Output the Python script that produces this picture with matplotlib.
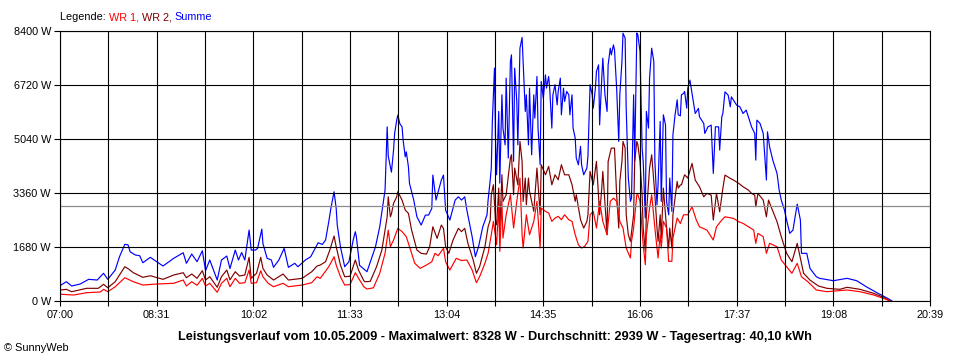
import matplotlib
matplotlib.use("Agg")
import matplotlib.pyplot as plt
import numpy as np

plt.rcParams['font.family'] = ['Liberation Sans', 'DejaVu Sans']

# ---------------- data (minutes after 07:00, watts) ----------------
t_summe = [1, 6, 11, 19, 27, 35, 41, 45, 52, 56, 61, 64, 66, 71, 75, 78, 85, 91, 97, 107,
           116, 119, 124, 129, 134, 137, 141, 148, 152, 157, 160, 165, 168, 171, 174, 178, 180, 184, 186, 190,
           191, 195, 199, 201, 206, 211, 215, 221, 224, 231, 236, 243, 247, 250, 253, 255, 258, 260, 261, 264,
           268, 272, 276, 278, 279, 282, 289, 297, 301, 306, 308, 309, 311, 312, 314, 315, 317, 318, 320, 322,
           323, 325, 326, 328, 329, 333, 336, 340, 344, 347, 350, 351, 354, 356, 359, 361, 363, 367, 372, 375,
           378, 381, 383, 388, 391, 394, 398, 402, 403, 405, 406, 407, 409, 410, 411, 413, 414, 416, 417, 419,
           420, 422, 424, 425, 427, 428, 430, 431, 433, 435, 436, 438, 439, 441, 442, 444, 446, 447, 449, 450,
           452, 453, 455, 457, 458, 460, 461, 463, 464, 466, 468, 469, 471, 472, 474, 475, 477, 479, 480, 482,
           483, 485, 486, 488, 490, 491, 493, 496, 497, 499, 501, 502, 504, 505, 507, 508, 510, 511, 513, 515,
           516, 518, 519, 521, 522, 524, 526, 527, 529, 530, 532, 533, 535, 537, 538, 540, 541, 543, 544, 546,
           548, 549, 551, 552, 554, 555, 557, 559, 560, 562, 563, 565, 566, 568, 570, 571, 573, 574, 576, 577,
           579, 581, 582, 584, 585, 587, 588, 590, 591, 593, 596, 598, 601, 602, 606, 607, 610, 613, 615, 617,
           620, 621, 623, 624, 626, 629, 631, 632, 635, 637, 640, 643, 646, 648, 651, 654, 655, 656, 659, 662,
           665, 666, 668, 671, 675, 677, 679, 682, 684, 687, 690, 694, 697, 698, 703, 706, 712, 715, 728, 741,
           750, 759, 769, 775, 783]
summe = [488, 591, 457, 519, 665, 643, 852, 665, 954, 1368, 1753, 1740, 1523, 1421, 1400, 1181, 1349, 1213, 1079, 1318,
         1492, 1163, 1452, 1213, 1555, 933, 1265, 643, 1265, 1390, 1000, 1576, 1265, 1500, 1265, 2198, 1576, 1576, 1629, 2229,
         1784, 1318, 1265, 1038, 1265, 1629, 1038, 1163, 1057, 1265, 1368, 1803, 1750, 1887, 2456, 2873, 3389, 2873, 2353, 1680,
         1057, 1213, 1887, 2145, 1990, 1100, 902, 1680, 2300, 3442, 5410, 4500, 4166, 4000, 4685, 5204, 5618, 5773, 5500, 5410,
         4996, 4477, 4632, 4166, 3650, 3131, 2611, 2353, 2664, 2664, 2873, 3908, 3131, 3389, 3753, 3908, 2820, 2509, 3131, 3233,
         3131, 3233, 2820, 1990, 1368, 1680, 2300, 2673, 3131, 3753, 4126, 5577, 7235, 5000, 3917, 5888, 3659, 6405, 5369, 4850,
         6924, 4437, 7443, 7648, 4333, 7235, 6199, 4850, 7856, 8189, 7443, 5888, 6405, 4850, 6613, 4540, 6405, 5680, 6976, 5369,
         4229, 6821, 6302, 7027, 6613, 6976, 6613, 5369, 6405, 6720, 6094, 6510, 6924, 5783, 6613, 6199, 6510, 6405, 5783, 6405,
         5369, 5058, 4437, 4229, 4800, 4229, 3917, 4126, 4500, 6720, 6405, 5991, 6613, 7132, 7337, 5472, 6924, 7545, 6405, 5888,
         7337, 7856, 7648, 7959, 7803, 6613, 4955, 6405, 7443, 8322, 8167, 5991, 3815, 3090, 3193, 6405, 4333, 8328, 8270, 7754,
         4747, 4333, 2571, 5888, 5369, 6924, 7856, 7443, 4333, 2985, 3607, 5577, 3090, 5783, 5472, 3090, 2673, 3815, 2779, 5161,
         5783, 6249, 5783, 5750, 6405, 6448, 6510, 5991, 6613, 6862, 6240, 5825, 5982, 5721, 5515, 5204, 5410, 5463, 3961, 5410,
         5410, 4685, 5721, 5825, 6498, 6395, 6032, 6342, 6187, 6084, 6032, 5825, 5929, 5721, 5410, 5204, 4374, 5618, 5515, 5204,
         3753, 5254, 4788, 4374, 3961, 3442, 3131, 2820, 2509, 2095, 2198, 3006, 2509, 1474, 1474, 1007, 746, 696, 622, 696,
         622, 435, 249, 146, 0]

t_wr2 = [1, 6, 11, 25, 36, 41, 45, 52, 61, 64, 69, 78, 85, 97, 107, 116, 119, 124, 129, 134,
         137, 141, 148, 152, 157, 160, 165, 169, 174, 178, 180, 185, 189, 191, 195, 201, 210, 215, 228, 237,
         242, 245, 250, 254, 258, 260, 264, 268, 273, 278, 281, 286, 287, 292, 298, 303, 308, 309, 311, 312,
         314, 317, 318, 322, 325, 328, 331, 336, 340, 345, 348, 351, 355, 359, 361, 363, 366, 370, 375, 378,
         381, 384, 389, 392, 395, 400, 403, 405, 406, 408, 410, 411, 413, 414, 416, 417, 420, 424, 425, 427,
         428, 431, 433, 435, 436, 438, 439, 441, 442, 446, 449, 452, 453, 457, 460, 463, 466, 469, 472, 475,
         479, 482, 485, 486, 490, 493, 496, 497, 499, 502, 505, 508, 510, 511, 515, 516, 519, 522, 524, 526,
         527, 529, 530, 532, 533, 535, 537, 540, 541, 543, 544, 546, 548, 549, 551, 552, 555, 557, 560, 562,
         563, 565, 566, 568, 571, 573, 574, 576, 577, 581, 582, 584, 585, 588, 591, 595, 598, 602, 606, 609,
         613, 615, 618, 621, 624, 626, 631, 634, 639, 643, 648, 651, 654, 655, 657, 662, 665, 667, 670, 675,
         679, 684, 689, 694, 697, 700, 706, 714, 722, 734, 741, 753, 766, 775, 781]
wr2 = [333, 354, 280, 385, 385, 510, 404, 591, 1057, 1000, 871, 727, 777, 665, 799, 871, 715, 830, 696, 933,
       643, 746, 417, 746, 954, 650, 902, 768, 800, 1349, 696, 852, 1349, 1007, 799, 643, 830, 643, 696, 902,
       1079, 1110, 1213, 1576, 2012, 1680, 1110, 746, 760, 1265, 954, 622, 591, 600, 1057, 1576, 2611, 3233, 2611, 2700,
       3028, 3233, 3389, 3131, 2820, 2717, 2198, 1576, 1474, 1450, 1680, 2300, 1940, 2353, 2250, 1680, 1474, 1887, 2251, 2150,
       2251, 1784, 1265, 852, 1057, 1680, 2300, 2509, 3296, 3607, 2469, 2363, 3504, 2157, 3917, 3090, 3296, 4437, 4540, 3296,
       4126, 3607, 4955, 4333, 3090, 3815, 2985, 3815, 3401, 2779, 4126, 2673, 4229, 3917, 4178, 3607, 3917, 3762, 4229, 3917,
       3917, 3607, 3090, 3296, 2520, 2260, 2469, 2673, 4023, 3607, 4333, 2673, 3504, 4023, 2053, 4333, 4747, 4747, 3296, 2260,
       3712, 4333, 4955, 4747, 2673, 2053, 1847, 2673, 4333, 4955, 4850, 4333, 3296, 2260, 1535, 2673, 4126, 4540, 3296, 2260,
       1847, 2673, 1949, 3504, 2260, 1638, 2260, 1638, 2673, 3712, 3504, 3600, 3607, 3917, 3815, 4272, 3753, 3545, 3233, 3339,
       3286, 2509, 3339, 2767, 3494, 3908, 3805, 3753, 3650, 3545, 3442, 3339, 3286, 2923, 3339, 3131, 2611, 3131, 2873, 2456,
       1990, 1474, 1213, 1784, 1318, 852, 643, 457, 385, 354, 417, 354, 230, 106, 0]

t_wr1 = [1, 13, 25, 38, 41, 45, 52, 61, 69, 78, 91, 107, 116, 119, 124, 129, 134, 137, 141, 148,
         152, 157, 160, 165, 169, 174, 178, 180, 185, 189, 191, 196, 201, 210, 215, 228, 237, 242, 245, 253,
         258, 260, 264, 268, 273, 278, 281, 286, 289, 295, 301, 306, 309, 311, 314, 318, 322, 326, 329, 334,
         339, 345, 350, 353, 356, 361, 363, 367, 373, 378, 383, 388, 392, 395, 400, 403, 406, 408, 411, 413,
         414, 416, 417, 420, 424, 427, 430, 433, 435, 436, 439, 442, 446, 449, 452, 453, 457, 460, 463, 466,
         469, 472, 475, 479, 482, 485, 488, 491, 494, 497, 499, 502, 505, 508, 511, 515, 518, 521, 524, 527,
         530, 533, 537, 538, 540, 543, 544, 546, 549, 551, 552, 555, 557, 560, 562, 563, 565, 566, 568, 571,
         573, 576, 577, 581, 584, 587, 591, 595, 599, 602, 609, 615, 618, 623, 626, 634, 639, 643, 648, 653,
         655, 657, 662, 665, 668, 675, 679, 684, 689, 694, 698, 704, 712, 722, 741, 753, 766, 775, 781]
wr1 = [199, 177, 249, 271, 354, 280, 435, 715, 591, 488, 519, 541, 643, 457, 591, 480, 696, 460, 541, 261,
       541, 696, 435, 696, 541, 560, 954, 541, 560, 933, 746, 541, 435, 541, 435, 488, 560, 746, 696, 1057,
       1368, 1110, 746, 488, 500, 871, 700, 435, 364, 400, 852, 1474, 2198, 1680, 1887, 2251, 2150, 1990, 1680, 1163,
       1007, 1110, 1213, 1474, 1400, 1629, 1213, 954, 1318, 1250, 1265, 954, 560, 746, 1163, 1474, 2053, 2469, 1741, 2985,
       1535, 3090, 1949, 2673, 3296, 2260, 3090, 3815, 2053, 1638, 2673, 2053, 2469, 3090, 1638, 2882, 2779, 2727, 2469, 2571,
       2624, 2518, 2673, 2518, 2469, 2053, 1741, 1638, 1691, 1847, 2673, 2779, 2260, 3090, 2469, 2053, 3090, 3193, 3090, 2469,
       2260, 1638, 1328, 1847, 2260, 3296, 3296, 3090, 1741, 1119, 2053, 2882, 3296, 2260, 1638, 1328, 2053, 1638, 2469, 2260,
       1225, 1225, 1949, 2571, 2400, 2673, 2673, 2923, 2509, 2300, 2198, 1887, 2300, 2509, 2611, 2562, 2456, 2406, 2300, 2198,
       1784, 2095, 1990, 1474, 1784, 1680, 1265, 1057, 852, 1163, 746, 591, 333, 280, 333, 280, 177, 75, 0]

average_w = 2939
x_tick_labels = ["07:00", "08:31", "10:02", "11:33", "13:04", "14:35", "16:06", "17:37", "19:08", "20:39"]
y_ticks = [0, 1680, 3360, 5040, 6720, 8400]
legend_parts = [("Legende: ", "#000000"), ("WR 1, ", "#FF0000"), ("WR 2, ", "#800000"), ("Summe", "#0000FF")]
title = ("Leistungsverlauf vom 10.05.2009 - Maximalwert: 8328 W - "
         "Durchschnitt: 2939 W - Tagesertrag: 40,10 kWh")
copyright_text = "\u00a9 SunnyWeb"

# ---------------- figure ----------------
fig = plt.figure(figsize=(9.6, 3.6), dpi=100, facecolor="white")
ax = fig.add_axes([60 / 960, 59.3 / 360, 870 / 960, 270 / 360])
ax.set_facecolor("white")

span = 91 * (len(x_tick_labels) - 1)
ax.set_xlim(0, span)
ax.set_ylim(0, y_ticks[-1])

ax.plot(t_summe, summe, color="#0000FF", lw=0.85, zorder=2)
ax.plot(t_wr2, wr2, color="#800000", lw=0.85, zorder=3)
ax.plot(t_wr1, wr1, color="#FF0000", lw=0.85, zorder=4)

ax.axhline(average_w, color="#8C8C8C", lw=0.9, zorder=5)

major = np.arange(len(x_tick_labels)) * 91
minor = major[:-1] + 45.5
ax.set_xticks(major)
ax.set_xticklabels(x_tick_labels)
ax.set_xticks(minor, minor=True)
ax.set_yticks(y_ticks)
ax.set_yticklabels([f"{v} W" for v in y_ticks])

for v in list(major) + list(minor):
    ax.axvline(v, color="black", lw=0.8, zorder=6)
for v in y_ticks:
    ax.axhline(v, color="black", lw=0.8, zorder=6)

for s in ax.spines.values():
    s.set_color("black")
    s.set_linewidth(0.8)
    s.set_zorder(7)

ax.tick_params(axis="both", which="both", direction="out", color="black", width=0.8)
ax.tick_params(axis="x", which="both", length=3.5, pad=3, labelsize=7.8)
ax.tick_params(axis="y", length=4.5, pad=2, labelsize=7.8)

# legend line at top
fig.canvas.draw()
renderer = fig.canvas.get_renderer()
x_px = 60
for txt, col in legend_parts:
    t = fig.text(x_px / 960, 1 - 17 / 360, txt, color=col, fontsize=7.8,
                 ha="left", va="center")
    bb = t.get_window_extent(renderer=renderer)
    x_px = bb.x1

fig.text(495 / 960, 1 - 337 / 360, title, fontsize=9.2, fontweight="bold",
         ha="center", va="center")
fig.text(4 / 960, 1 - 348 / 360, copyright_text, fontsize=7.9, ha="left", va="center")

fig.savefig("out.png", dpi=100, facecolor="white")
